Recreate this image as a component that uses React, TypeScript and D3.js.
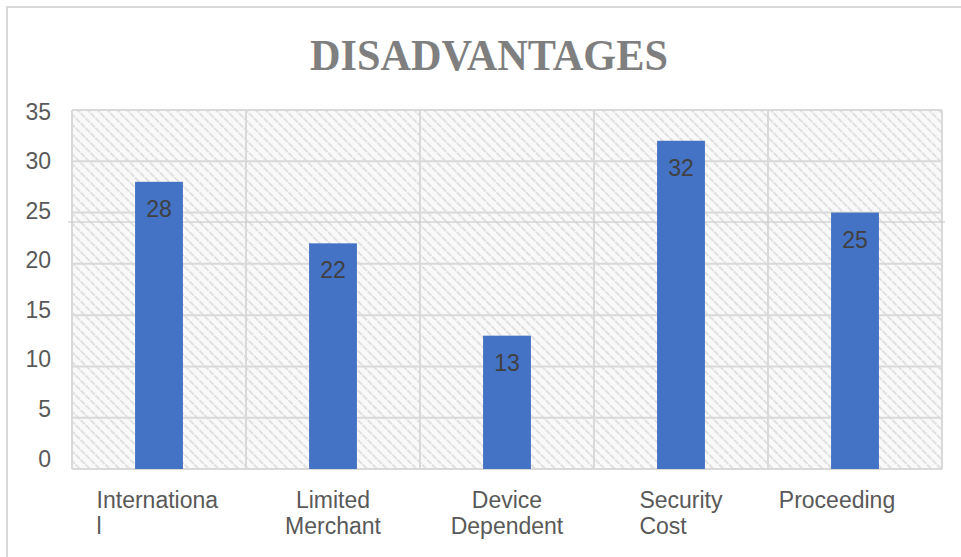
import React from "react";
import * as d3 from "d3";

const categories: string[][] = [
  ["Internationa", "l"],
  ["Limited", "Merchant"],
  ["Device", "Dependent"],
  ["Security", "Cost"],
  ["Proceeding"],
];
const values: number[] = [28, 22, 13, 32, 25];
const yTicks: number[] = [0, 5, 10, 15, 20, 25, 30, 35];
const title = "DISADVANTAGES";

const W = 961;
const H = 557;
const plot = { left: 72, right: 942, top: 110, bottom: 469 };

export default function App() {
  const keys = categories.map((c) => c.join(" "));
  const x = d3.scaleBand<string>().domain(keys).range([plot.left, plot.right]).padding(0);
  const y = d3.scaleLinear().domain([0, 35]).range([plot.bottom, plot.top]);
  const yLabel = d3.scaleLinear().domain([0, 35]).range([458.5, 111.5]);
  const barW = x.bandwidth() * 0.275;
  const font = "'Liberation Sans', Arial, Helvetica, sans-serif";
  const grid = "#d9d9d9";
  const leftAligned = [true, false, false, true, false];
  const labelShift = [0, 0, 0, 0, -18];

  return (
    <svg
      width={W}
      height={H}
      style={{ position: "absolute", left: 0, top: 0, background: "#fff" }}
    >
      <defs>
        <pattern
          id="hatch"
          width={7}
          height={7}
          patternUnits="userSpaceOnUse"
          patternTransform="rotate(45)"
        >
          <rect width={7} height={7} fill="#f9f9f9" />
          <line x1={0} y1={2} x2={7} y2={2} stroke="#e0e0e0" strokeWidth={2.2} strokeDasharray="3 1" />
        </pattern>
      </defs>
      <rect x={0} y={0} width={W} height={H} fill="#fff" />
      {/* outer chart frame */}
      <path d={`M7,${H + 5} L7,7 L${W + 5},7`} fill="none" stroke="#d9d9d9" strokeWidth={2} />

      <text
        x={489}
        y={70}
        textAnchor="middle"
        fontFamily="'Liberation Serif', 'Times New Roman', serif"
        fontWeight="bold"
        fontSize={45}
        fill="#7f7f7f"
        textLength={358}
        lengthAdjust="spacingAndGlyphs"
      >
        {title}
      </text>

      {/* plot area */}
      <rect
        x={plot.left}
        y={plot.top}
        width={plot.right - plot.left}
        height={plot.bottom - plot.top}
        fill="url(#hatch)"
      />
      {yTicks.map((t) => (
        <line key={"g" + t} x1={plot.left} x2={plot.right} y1={y(t)} y2={y(t)} stroke={grid} strokeWidth={2} />
      ))}
      {keys.map((k) => (
        <line key={"v" + k} x1={x(k)!} x2={x(k)!} y1={plot.top} y2={plot.bottom} stroke={grid} strokeWidth={2} />
      ))}
      <line x1={plot.right} x2={plot.right} y1={plot.top} y2={plot.bottom} stroke={grid} strokeWidth={2} />
      <line x1={plot.left - 4} x2={plot.right + 3} y1={222} y2={222} stroke="#c4c4c4" strokeWidth={1} />

      {yTicks.map((t) => (
        <text
          key={"t" + t}
          x={51}
          y={yLabel(t)}
          textAnchor="end"
          dominantBaseline="central"
          fontFamily={font}
          fontSize={23}
          fill="#595959"
        >
          {t}
        </text>
      ))}

      {values.map((v, i) => {
        const cx = x(keys[i])! + x.bandwidth() / 2;
        return (
          <g key={"b" + i}>
            <rect x={cx - barW / 2} y={y(v)} width={barW} height={y(0) - y(v)} fill="#4472c4" />
            <text
              x={cx}
              y={y(v) + 35}
              textAnchor="middle"
              fontFamily={font}
              fontSize={23}
              fill="#404040"
            >
              {v}
            </text>
          </g>
        );
      })}

      {categories.map((lines, i) => {
        const cx = x(keys[i])! + x.bandwidth() / 2 + labelShift[i];
        if (leftAligned[i]) {
          const widest = lines.reduce((a, b) => (b.length > a.length ? b : a), "");
          const approxW = widest.length * 10.4;
          const lx = cx - approxW / 2;
          return (
            <text key={"c" + i} fontFamily={font} fontSize={23} fill="#595959">
              {lines.map((l, j) => (
                <tspan key={j} x={lx} y={508 + j * 26}>
                  {l}
                </tspan>
              ))}
            </text>
          );
        }
        return (
          <text key={"c" + i} fontFamily={font} fontSize={23} fill="#595959" textAnchor="middle">
            {lines.map((l, j) => (
              <tspan key={j} x={cx} y={508 + j * 26}>
                {l}
              </tspan>
            ))}
          </text>
        );
      })}
    </svg>
  );
}
